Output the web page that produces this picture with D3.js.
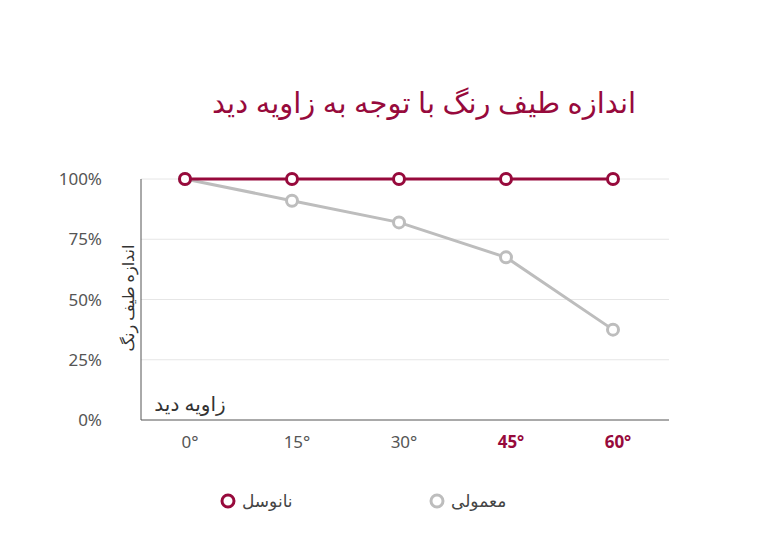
<!DOCTYPE html>
<html><head><meta charset="utf-8">
<script src="https://cdn.jsdelivr.net/npm/d3@7"></script>
<style>body{margin:0;background:#fff}text{font-family:"Noto Sans","DejaVu Sans",sans-serif}</style>
</head><body><div id="chart"></div>
<script>
var categories = ["0°", "15°", "30°", "45°", "60°"];
var nano = [100, 100, 100, 100, 100];
var normal = [100, 91, 82, 67.5, 37.5];
var yTicks = [0, 25, 50, 75, 100];
var red = "#970a3c", gray = "#bdbdbd";

var svg = d3.select("#chart").append("svg").attr("width", 768).attr("height", 560);

var x = d3.scalePoint().domain(categories).range([185, 613]);
var y = d3.scaleLinear().domain([0, 100]).range([420, 179]);

// grid
svg.selectAll(".grid").data(yTicks.slice(1)).enter().append("line")
    .attr("x1", 141).attr("x2", 669)
    .attr("y1", function(d) { return y(d); }).attr("y2", function(d) { return y(d); })
    .attr("stroke", "#e6e6e6");
svg.append("line").attr("x1", 141).attr("x2", 141).attr("y1", y(100)).attr("y2", y(0)).attr("stroke", "#555");
svg.append("line").attr("x1", 141).attr("x2", 669).attr("y1", y(0)).attr("y2", y(0)).attr("stroke", "#555");

svg.selectAll(".yt").data(yTicks).enter().append("text")
    .attr("x", 102).attr("y", function(d) { return y(d) + 6; })
    .attr("text-anchor", "end").attr("font-size", 17).attr("fill", "#555")
    .text(function(d) { return d + "%"; });

svg.selectAll(".xt").data(categories).enter().append("text")
    .attr("x", function(d) { return x(d) + 5; }).attr("y", 448)
    .attr("text-anchor", "middle").attr("font-size", 17)
    .attr("font-weight", function(d, i) { return i >= 3 ? "bold" : "normal"; })
    .attr("fill", function(d, i) { return i >= 3 ? red : "#555"; })
    .text(function(d) { return d; });

svg.append("text").attr("x", 424).attr("y", 113).attr("text-anchor", "middle")
    .attr("font-size", 29).attr("fill", red).text("اندازه طیف رنگ با توجه به زاویه دید");
svg.append("text").attr("transform", "translate(134,298) rotate(-90)").attr("text-anchor", "middle")
    .attr("font-size", 16).attr("fill", "#333").text("اندازه طیف رنگ");
svg.append("text").attr("x", 190).attr("y", 411).attr("text-anchor", "middle")
    .attr("font-size", 20).attr("fill", "#333").text("زاویه دید");

var line = d3.line().x(function(d, i) { return x(categories[i]); }).y(function(d) { return y(d); });

function series(data, color) {
    svg.append("path").datum(data).attr("d", line).attr("fill", "none")
        .attr("stroke", color).attr("stroke-width", 3);
    svg.selectAll(null).data(data).enter().append("circle")
        .attr("cx", function(d, i) { return x(categories[i]); })
        .attr("cy", function(d) { return y(d); })
        .attr("r", 5.5).attr("fill", "#fff").attr("stroke", color).attr("stroke-width", 3);
}
series(normal, gray);
series(nano, red);

// legend
var legend = [{label: "نانوسل", color: red, x: 228}, {label: "معمولی", color: gray, x: 437}];
legend.forEach(function(l) {
    svg.append("circle").attr("cx", l.x).attr("cy", 501).attr("r", 6)
        .attr("fill", "#fff").attr("stroke", l.color).attr("stroke-width", 3);
    svg.append("text").attr("x", l.x + 14).attr("y", 507).attr("font-size", 17)
        .attr("fill", "#444").attr("text-anchor", "start").attr("direction", "ltr").text(l.label);
});
</script></body></html>
